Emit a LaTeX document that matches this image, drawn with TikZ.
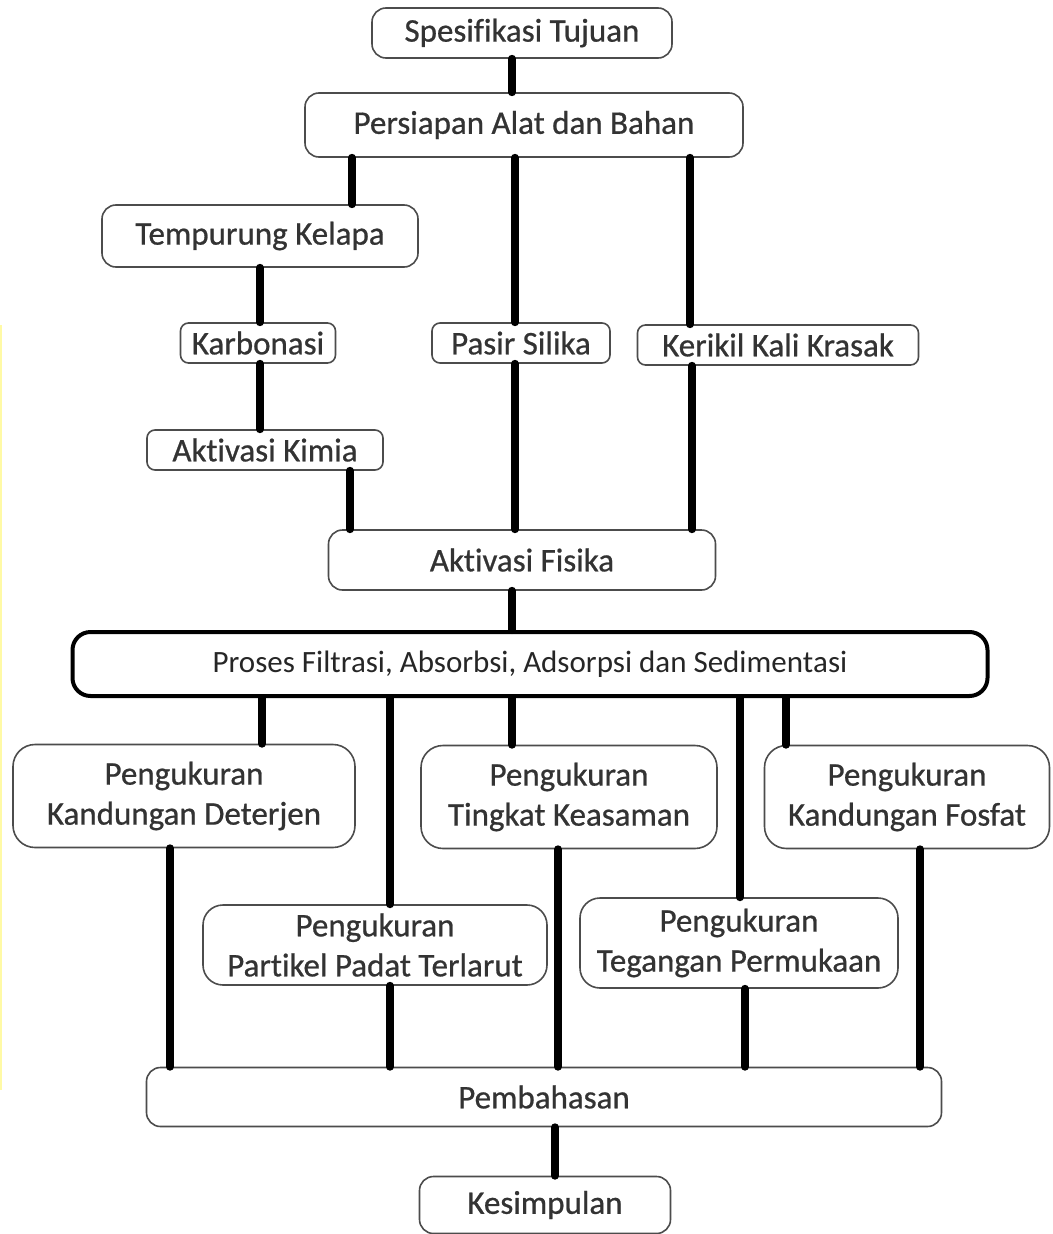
\documentclass[tikz,border=0pt]{standalone}
\usepackage{fontspec}
\setmainfont{Carlito}[RawFeature={-liga;-clig;-calt;-dlig}]
\newfontfamily\boxfont{Carlito}[RawFeature={-liga;-clig;-calt;-dlig}, FakeBold=0.7]
\begin{document}
\begin{tikzpicture}[x=1pt,y=-1pt,
  box/.style={draw=black!70, line width=1.6pt, rounded corners=14pt, fill=white,
    inner sep=0pt, align=center, text=black!80,
    font=\boxfont\fontsize{33}{40}\selectfont},
  bigbox/.style={draw=black, line width=4pt, rounded corners=18pt, fill=white,
    inner sep=0pt, align=center, text=black!85,
    font=\fontsize{31}{38}\selectfont},
  conn/.style={line width=8pt, black, line cap=round}]
\useasboundingbox (0,0) rectangle (1052,1234);
\fill[white] (0,0) rectangle (1052,1234);
\draw[yellow!35, line width=1.5pt] (1,325) -- (1,1090);

\node[box, minimum width=300, minimum height=50] (spes) at (522,33) {Spesif\kern0pt ikasi Tujuan};
\node[box, minimum width=438, minimum height=64] (pers) at (524,125) {Persiapan Alat dan Bahan};
\node[box, minimum width=316, minimum height=62] (temp) at (260,236) {Tempurung Kelapa};
\node[box, minimum width=155, minimum height=40, rounded corners=8pt] (karb) at (258,343) {Karbonasi};
\node[box, minimum width=178, minimum height=40, rounded corners=8pt] (pasir) at (521,343) {Pasir Silika};
\node[box, minimum width=281, minimum height=40, rounded corners=8pt] (keri) at (778,345) {Kerikil Kali Krasak};
\node[box, minimum width=236, minimum height=40, rounded corners=8pt] (kimia) at (265,450) {Akt\kern0pt ivasi Kimia};
\node[box, minimum width=387, minimum height=60] (fisika) at (522,560) {Akt\kern0pt ivasi Fisika};
\node[bigbox, minimum width=915, minimum height=64] (proses) at (530,664) {Proses Filt\kern0pt rasi, Absorbsi, Adsorpsi dan Sediment\kern0pt asi};
\node[box, minimum width=342, minimum height=103, rounded corners=22pt] (deter) at (184,796) {Pengukuran\\Kandungan Deterjen};
\node[box, minimum width=296, minimum height=103, rounded corners=22pt] (asam) at (569,797) {Pengukuran\\Tingkat Keasaman};
\node[box, minimum width=285, minimum height=103, rounded corners=22pt] (fosfat) at (907,797) {Pengukuran\\Kandungan Fosfat};
\node[box, minimum width=344, minimum height=80, rounded corners=20pt] (padat) at (375,945) {Pengukuran\\Partikel Padat Terlarut};
\node[box, minimum width=318, minimum height=90, rounded corners=20pt] (tegang) at (739,943) {Pengukuran\\Tegangan Permukaan};
\node[box, minimum width=795, minimum height=59] (bahas) at (544,1097) {Pembahasan};
\node[box, minimum width=251, minimum height=57] (simpul) at (545,1205) {Kesimpulan};

\draw[conn] (spes.south -| 512,0) -- (pers.north -| 512,0);
\draw[conn] (pers.south -| 352,0) -- (temp.north -| 352,0);
\draw[conn] (pers.south -| 515,0) -- (pasir.north -| 515,0);
\draw[conn] (pers.south -| 690,0) -- (keri.north -| 690,0);
\draw[conn] (temp.south -| 260,0) -- (karb.north -| 260,0);
\draw[conn] (karb.south -| 260,0) -- (kimia.north -| 260,0);
\draw[conn] (kimia.south -| 350,0) -- (fisika.north -| 350,0);
\draw[conn] (pasir.south -| 515,0) -- (fisika.north -| 515,0);
\draw[conn] (keri.south -| 692,0) -- (fisika.north -| 692,0);
\draw[conn] (fisika.south -| 512,0) -- (proses.north -| 512,0);
\draw[conn] (proses.south -| 262,0) -- (deter.north -| 262,0);
\draw[conn] (proses.south -| 390,0) -- (padat.north -| 390,0);
\draw[conn] (proses.south -| 512,0) -- (asam.north -| 512,0);
\draw[conn] (proses.south -| 740,0) -- (tegang.north -| 740,0);
\draw[conn] (proses.south -| 786,0) -- (fosfat.north -| 786,0);
\draw[conn] (deter.south -| 170,0) -- (bahas.north -| 170,0);
\draw[conn] (padat.south -| 390,0) -- (bahas.north -| 390,0);
\draw[conn] (asam.south -| 558,0) -- (bahas.north -| 558,0);
\draw[conn] (tegang.south -| 745,0) -- (bahas.north -| 745,0);
\draw[conn] (fosfat.south -| 920,0) -- (bahas.north -| 920,0);
\draw[conn] (bahas.south -| 555,0) -- (simpul.north -| 555,0);
\end{tikzpicture}
\end{document}
